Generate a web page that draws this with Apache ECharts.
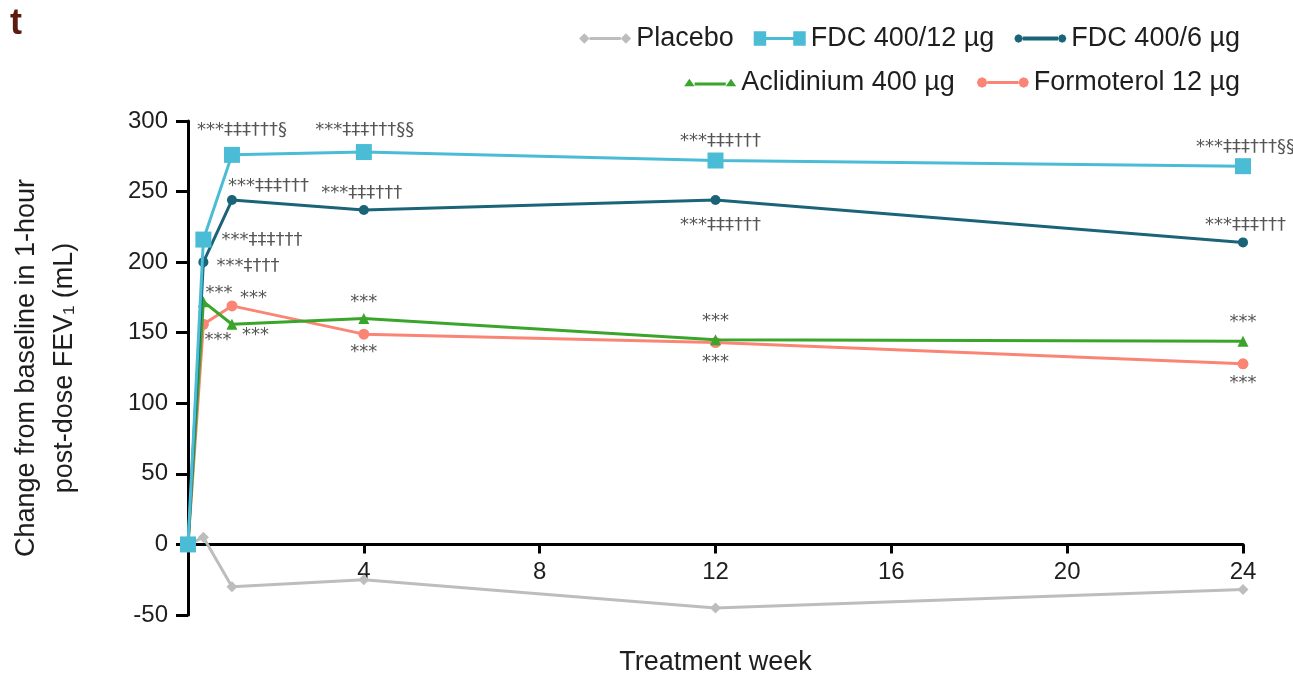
<!DOCTYPE html>
<html>
<head>
<meta charset="utf-8">
<script src="https://cdn.jsdelivr.net/npm/echarts@6/dist/echarts.min.js"></script>
<style>
  html, body { margin: 0; padding: 0; background: #ffffff; }
  #chart { width: 1293px; height: 674px; }
</style>
</head>
<body>
<div id="chart"></div>
<script>
// Visit times in treatment weeks (baseline, day 1, weeks 1, 4, 12, 24)
const weeks = [0, 0.35, 1, 4, 12, 24];

// Mean change from baseline in 1-hour post-dose FEV1 (mL)
const placebo    = [0, 5, -30, -25, -45, -32];
const fdc12      = [0, 216, 276, 278, 272, 268];
const fdc6       = [0, 200, 244, 237, 244, 214];
const aclidinium = [0, 172, 156, 160, 145, 144];
const formoterol = [0, 156, 169, 149, 143, 128];

const seriesNames = ['Placebo', 'FDC 400/12 µg', 'FDC 400/6 µg', 'Aclidinium 400 µg', 'Formoterol 12 µg'];

// Significance markers at each visit
const fdc12Notes      = ['', '***‡‡‡†††', '***‡‡‡†††§', '***‡‡‡†††§§', '***‡‡‡†††', '***‡‡‡†††§§'];
const fdc6Notes       = ['', '***‡†††', '***‡‡‡†††', '***‡‡‡†††', '***‡‡‡†††', '***‡‡‡†††'];
const aclidiniumNotes = ['', '***', '***', '***', '***', '***'];
const formoterolNotes = ['', '***', '***', '***', '***', '***'];

// Axis ticks
const yMin = -50, yMax = 300, yStep = 50;
const xMin = 0, xMax = 24, xStep = 4;

// Where each marker sits relative to its point: [dx, dy, align]
const noteLayout = {
  fdc12:      [null, [18, 1, 'left'], [10, -25, 'center'], [1, -22, 'center'], [5, -19, 'center'], [-47, -19, 'left']],
  fdc6:       [null, [13, 4, 'left'], [-4, -14, 'left'], [-2, -17, 'center'], [5, 25, 'center'], [-38, -17, 'left']],
  aclidinium: [null, [2, -8, 'left'], [10, 11, 'left'], [0, -16, 'center'], [0, -18, 'center'], [0, -19, 'center']],
  formoterol: [null, [1, 16, 'left'], [8, -8, 'left'], [0, 18, 'center'], [0, 20, 'center'], [0, 20, 'center']]
};

const FONT = '"Liberation Sans", Arial, sans-serif';
const NOTE_FONT = '"DejaVu Sans", sans-serif';
const TEXT = '#1e1e1e';

function buildData(values, notes, layout) {
  return values.map(function (v, i) {
    const item = { value: [weeks[i], v] };
    if (notes && notes[i] && layout && layout[i]) {
      const l = layout[i];
      item.label = {
        show: true,
        position: 'inside',
        formatter: notes[i],
        offset: [l[0], l[1]],
        align: l[2],
        verticalAlign: 'middle',
        color: '#555555',
        fontSize: 18,
        fontFamily: NOTE_FONT
      };
    }
    return item;
  });
}

function lineSeries(name, values, color, symbol, size, z, notes, layout) {
  return {
    name: name,
    type: 'line',
    z: z,
    data: buildData(values, notes, layout),
    symbol: symbol,
    symbolSize: size,
    showAllSymbol: true,
    lineStyle: { color: color, width: 3 },
    itemStyle: { color: color },
    label: { show: false },
    emphasis: { disabled: true },
    animation: false
  };
}

// Legend icons: a short line with the marker shape at both ends
const ICON_RECT     = 'path://M0,1h12v14H0z M12,6.5h26v3H12z M38,1h12v14H38z';
const ICON_DIAMOND  = 'path://M0,8L5,3L10,8L5,13z M10,6.5h30v3H10z M40,8L45,3L50,8L45,13z';
const ICON_DOT      = 'path://M0,8L1.2,5.2L4,4L6.8,5.2L8,8L6.8,10.8L4,12L1.2,10.8z M8,6h34v4H8z M42,8L43.2,5.2L46,4L48.8,5.2L50,8L48.8,10.8L46,12L43.2,10.8z';
const ICON_CIRCLE   = 'path://M0,8L1.5,4.5L5,3L8.5,4.5L10,8L8.5,11.5L5,13L1.5,11.5z M10,6.5h30v3H10z M40,8L41.5,4.5L45,3L48.5,4.5L50,8L48.5,11.5L45,13L41.5,11.5z';
const ICON_TRIANGLE = 'path://M0,13L5,6L10,13z M10,9.5h30v3H10z M40,13L45,6L50,13z';

const legendText = { color: TEXT, fontSize: 27, fontFamily: FONT };

const chart = echarts.init(document.getElementById('chart'), null, { renderer: 'canvas' });

chart.setOption({
  backgroundColor: '#ffffff',
  animation: false,
  textStyle: { fontFamily: FONT },
  graphic: [{
    type: 'text',
    left: 10,
    top: 6,
    style: { text: 't', fill: '#5c1a10', font: 'bold 36px ' + FONT }
  }],
  legend: [
    {
      data: [
        { name: seriesNames[0], icon: ICON_DIAMOND },
        { name: seriesNames[1], icon: ICON_RECT },
        { name: seriesNames[2], icon: ICON_DOT }
      ],
      right: 48, top: 20,
      itemWidth: 52, itemHeight: 16, itemGap: 20,
      textStyle: legendText,
      selectedMode: false
    },
    {
      data: [
        { name: seriesNames[3], icon: ICON_TRIANGLE },
        { name: seriesNames[4], icon: ICON_CIRCLE }
      ],
      right: 48, top: 64,
      itemWidth: 52, itemHeight: 16, itemGap: 22,
      textStyle: legendText,
      selectedMode: false
    }
  ],
  grid: { left: 188, right: 50, top: 121, bottom: 59, containLabel: false, outerBoundsMode: 'none' },
  xAxis: {
    type: 'value',
    min: xMin, max: xMax, interval: xStep,
    axisLine: { show: true, onZero: true, lineStyle: { color: '#000', width: 3 } },
    axisTick: { show: true, length: 9, lineStyle: { color: '#000', width: 3 } },
    axisLabel: {
      color: TEXT, fontSize: 24, margin: -55, fontFamily: FONT,
      formatter: function (v) { return v === 0 ? '' : String(v); }
    },
    splitLine: { show: false },
    name: 'Treatment week',
    nameLocation: 'middle',
    nameGap: 34,
    nameTextStyle: { color: TEXT, fontSize: 27, fontFamily: FONT }
  },
  yAxis: {
    type: 'value',
    min: yMin, max: yMax, interval: yStep,
    axisLine: { show: true, lineStyle: { color: '#000', width: 3 } },
    axisTick: { show: true, length: 12, lineStyle: { color: '#000', width: 3 } },
    axisLabel: { color: TEXT, fontSize: 24, margin: 20, fontFamily: FONT },
    splitLine: { show: false },
    name: 'Change from baseline in 1-hour\npost-dose FEV₁ (mL)',
    nameLocation: 'middle',
    nameRotate: 90,
    nameGap: 104,
    nameTextStyle: { color: TEXT, fontSize: 27, lineHeight: 38, fontFamily: FONT }
  },
  series: [
    lineSeries(seriesNames[0], placebo,    '#bdbdbd', 'diamond',  11, 2),
    lineSeries(seriesNames[1], fdc12,      '#4bbcd6', 'rect',     16, 6, fdc12Notes, noteLayout.fdc12),
    lineSeries(seriesNames[2], fdc6,       '#1b6478', 'circle',   10, 5, fdc6Notes, noteLayout.fdc6),
    lineSeries(seriesNames[3], aclidinium, '#3aa52b', 'triangle', 11, 4, aclidiniumNotes, noteLayout.aclidinium),
    lineSeries(seriesNames[4], formoterol, '#fa8574', 'circle',   11, 3, formoterolNotes, noteLayout.formoterol)
  ]
});
</script>
</body>
</html>
